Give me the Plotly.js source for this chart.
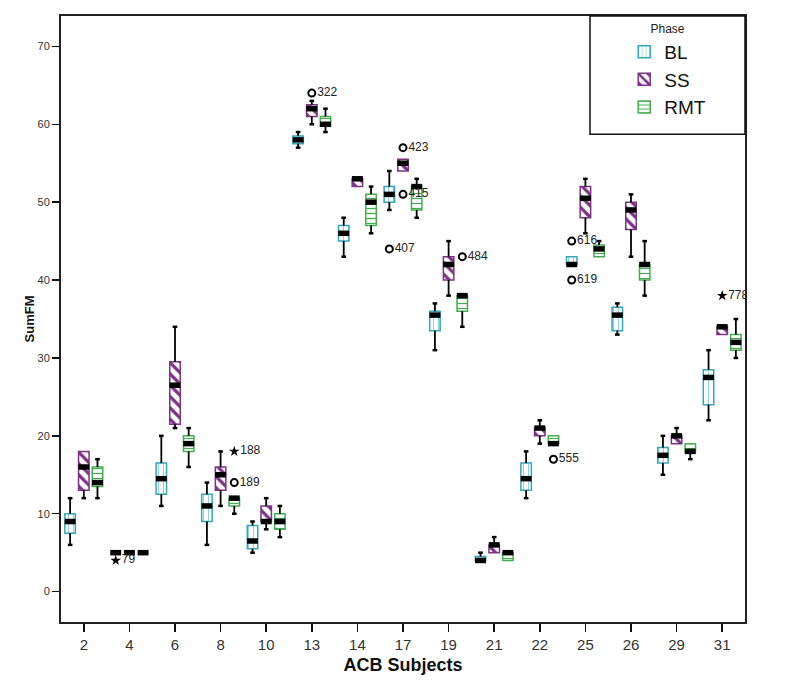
<!DOCTYPE html>
<html>
<head>
<meta charset="utf-8">
<script src="https://cdn.plot.ly/plotly-3.0.1.min.js"></script>
<style>
  body { margin: 0; background: #fff; }
  #chart { width: 797px; height: 699px; }
</style>
</head>
<body>
<div id="chart"></div>
<script>
var subjects = ['2', '4', '6', '8', '10', '13', '14', '17', '19', '21', '22', '25', '26', '29', '31'];

// box summaries: lower whisker, Q1, median, Q3, upper whisker
var blLow  = [6, 5, 11, 6, 5, 57, 43, 49, 31, 4, 12, 42, 33, 15, 22];
var blQ1   = [7.5, 5, 12.5, 9, 5.5, 57.5, 45, 50, 33.5, 4, 13, 42, 33.5, 16.5, 24];
var blMed  = [9, 5, 14.5, 11, 6.5, 58, 46, 51, 35.5, 4, 14.5, 42, 35.5, 17.5, 27.5];
var blQ3   = [10, 5, 16.5, 12.5, 8.5, 58.5, 47, 52, 36, 4.5, 16.5, 43, 36.5, 18.5, 28.5];
var blHigh = [12, 5, 20, 14, 9, 59, 48, 54, 37, 5, 18, 43, 37, 20, 31];

var ssLow  = [12, 5, 21, 11, 8, 60, 52, 54, 38, 5, 19, 46, 43, 19, 33];
var ssQ1   = [13, 5, 21.5, 13, 9, 61, 52, 54, 40, 5, 20, 48, 46.5, 19, 33];
var ssMed  = [16, 5, 26.5, 15, 9, 62, 53, 55, 42, 6, 21, 50.5, 49, 20, 34];
var ssQ3   = [18, 5, 29.5, 16, 11, 62.5, 53, 55.5, 43, 6, 21, 52, 50, 20, 34];
var ssHigh = [18, 5, 34, 18, 12, 63, 53, 55.5, 45, 7, 22, 53, 51, 21, 34];

var rmtLow  = [12, 5, 16, 10, 7, 59, 46, 48, 34, 4, 19, 43, 38, 17, 30];
var rmtQ1   = [13.5, 5, 18, 11, 8, 59.75, 47, 49, 36, 4, 19, 43, 40, 18, 31];
var rmtMed  = [14, 5, 19, 12, 9, 60, 50, 52, 38, 5, 19, 44, 42, 18, 32];
var rmtQ3   = [16, 5, 20, 12, 10, 61, 51, 52, 38, 5, 20, 44.5, 42, 19, 33];
var rmtHigh = [17, 5, 21, 12, 11, 62, 52, 53, 38, 5, 20, 45, 45, 19, 35];

// outliers (o) and extremes (*) with their case numbers
var outSubject = ['4', '13', '17', '17', '17', '19', '8', '8', '25', '25', '22', '31'];
var outPhase   = ['BL', 'SS', 'BL', 'SS', 'SS', 'RMT', 'RMT', 'RMT', 'BL', 'BL', 'RMT', 'SS'];
var outValue   = [4, 64, 44, 57, 51, 43, 18, 14, 45, 40, 17, 38];
var outCase    = ['79', '322', '407', '423', '415', '484', '188', '189', '616', '619', '555', '778'];
var outExtreme = [true, false, false, false, false, false, true, false, false, false, false, true];

var phaseOffset = { BL: -0.3, SS: 0, RMT: 0.3 };

var phases = [
    { name: 'BL', low: blLow, q1: blQ1, med: blMed, q3: blQ3, high: blHigh,
      color: '#35a7b6', pattern: { shape: '|', fgcolor: '#8fd3da', size: 5, solidity: 0.2 } },
    { name: 'SS', low: ssLow, q1: ssQ1, med: ssMed, q3: ssQ3, high: ssHigh,
      color: '#7b3383', pattern: { shape: '\\', fgcolor: '#7b3383', size: 8, solidity: 0.4 } },
    { name: 'RMT', low: rmtLow, q1: rmtQ1, med: rmtMed, q3: rmtQ3, high: rmtHigh,
      color: '#45ad52', pattern: { shape: '-', fgcolor: '#45ad52', size: 5, solidity: 0.25 } }
];

var boxTraces = [], lineTraces = [], capTraces = [], medTraces = [];

phases.forEach(function (p) {
    var xs = subjects.map(function (s, i) { return i + phaseOffset[p.name]; });

    boxTraces.push({
        type: 'bar',
        name: p.name,
        x: xs,
        base: p.q1,
        y: p.q3.map(function (v, i) { return v - p.q1[i]; }),
        width: 0.23,
        marker: { color: 'white', line: { color: p.color, width: 1.5 }, pattern: p.pattern },
        hoverinfo: 'skip'
    });

    var wx = [], wy = [], cx = [], cy = [];
    xs.forEach(function (x, i) {
        if (p.low[i] < p.q1[i]) {
            wx.push(x, x, null); wy.push(p.low[i], p.q1[i], null);
            cx.push(x); cy.push(p.low[i]);
        }
        if (p.high[i] > p.q3[i]) {
            wx.push(x, x, null); wy.push(p.q3[i], p.high[i], null);
            cx.push(x); cy.push(p.high[i]);
        }
    });
    lineTraces.push({
        type: 'scatter', mode: 'lines', x: wx, y: wy, showlegend: false, hoverinfo: 'skip',
        line: { color: 'black', width: 1.8 }
    });
    capTraces.push({
        type: 'scatter', mode: 'markers', x: cx, y: cy, showlegend: false, hoverinfo: 'skip',
        marker: { symbol: 'line-ew', size: 3.3, line: { color: 'black', width: 2.5 } }
    });
    medTraces.push({
        type: 'scatter', mode: 'markers', x: xs, y: p.med, showlegend: false, hoverinfo: 'skip',
        marker: { symbol: 'line-ew', size: 7.8, line: { color: 'black', width: 5.5 } }
    });
});

function outlierTrace(extreme) {
    var x = [], y = [], t = [];
    outValue.forEach(function (v, i) {
        if (outExtreme[i] !== extreme) return;
        x.push(subjects.indexOf(outSubject[i]) + phaseOffset[outPhase[i]]);
        y.push(v);
        t.push(outCase[i]);
    });
    return {
        type: 'scatter', mode: 'markers+text', x: x, y: y, text: t,
        textposition: 'middle right', showlegend: false, hoverinfo: 'skip',
        textfont: { size: 12, color: '#222' },
        marker: extreme
            ? { symbol: 'star', size: 8, color: 'black' }
            : { symbol: 'circle-open', size: 7, color: 'black', line: { width: 2 } }
    };
}

var data = boxTraces.concat(lineTraces, capTraces, medTraces, [outlierTrace(false), outlierTrace(true)]);

var layout = {
    width: 797,
    height: 699,
    margin: { l: 61, r: 52, t: 16, b: 77 },
    paper_bgcolor: 'white',
    plot_bgcolor: 'white',
    font: { family: 'Liberation Sans, Arial, sans-serif', color: '#222' },
    barmode: 'overlay',
    showlegend: true,
    legend: {
        x: 0.887, xanchor: 'center', y: 0.998, yanchor: 'top',
        bgcolor: 'rgba(0,0,0,0)', borderwidth: 0,
        font: { size: 19, color: '#111' },
        title: { text: 'Phase', side: 'top center', font: { size: 12, color: '#222' } },
        traceorder: 'normal'
    },
    shapes: [{
        type: 'rect', xref: 'paper', yref: 'paper',
        x0: 0.7734, x1: 1, y0: 0.805, y1: 1,
        line: { color: '#111', width: 1.5 }, fillcolor: 'white', layer: 'above'
    }],
    xaxis: {
        range: [-0.5, 14.5],
        tickmode: 'array',
        tickvals: subjects.map(function (s, i) { return i; }),
        ticktext: subjects,
        ticks: 'outside', ticklen: 8, tickwidth: 1.5, tickcolor: '#111',
        tickfont: { size: 15, color: '#333' },
        showgrid: false, zeroline: false,
        showline: true, linecolor: '#222', linewidth: 2, mirror: true,
        title: { text: '<b>ACB Subjects</b>', font: { size: 18, color: '#111' }, standoff: 6 }
    },
    yaxis: {
        range: [-3.9, 73.9],
        tickmode: 'array',
        tickvals: [0, 10, 20, 30, 40, 50, 60, 70],
        ticks: 'outside', ticklen: 7, tickwidth: 1.5, tickcolor: '#111',
        tickfont: { size: 11, color: '#333' },
        showgrid: false, zeroline: false,
        showline: true, linecolor: '#222', linewidth: 2, mirror: true,
        title: { text: '<b>SumFM</b>', font: { size: 13, color: '#111' }, standoff: 0 }
    }
};

Plotly.newPlot('chart', data, layout, { displayModeBar: false, staticPlot: true });
</script>
</body>
</html>
